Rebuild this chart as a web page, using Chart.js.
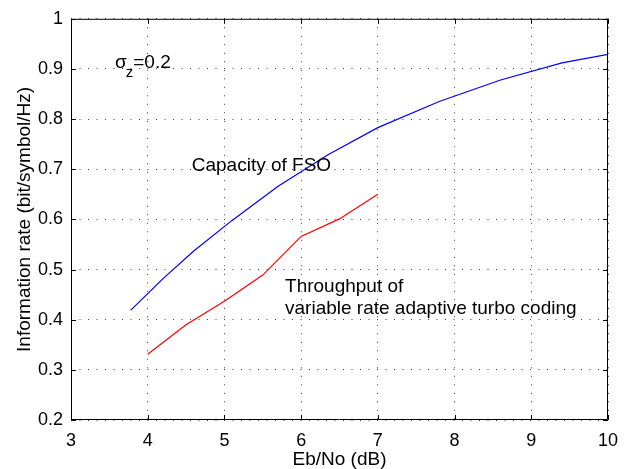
<!DOCTYPE html>
<html>
<head>
<meta charset="utf-8">
<script src="https://cdn.jsdelivr.net/npm/chart.js@4.4.1/dist/chart.umd.min.js"></script>
<style>
  html, body { margin: 0; padding: 0; background: #fff; }
  canvas { display: block; }
</style>
</head>
<body>
<canvas id="chart" width="631" height="469"></canvas>
<script>
// Capacity of FSO (blue curve)
const capacityEbNo = [3.78, 4.2, 4.6, 5.1, 5.7, 6.35, 7.0, 7.8, 8.6, 9.4, 10.0];
const capacityRate = [0.419, 0.482, 0.537, 0.598, 0.666, 0.729, 0.783, 0.835, 0.878, 0.912, 0.929];

// Throughput of variable rate adaptive turbo coding (red curve)
const throughputEbNo = [4, 4.5, 5, 5.5, 6, 6.5, 7];
const throughputRate = [0.331, 0.39, 0.437, 0.489, 0.566, 0.601, 0.65];

const xTicks = [3, 4, 5, 6, 7, 8, 9, 10];
const yTicks = [0.2, 0.3, 0.4, 0.5, 0.6, 0.7, 0.8, 0.9, 1];

// text notes, anchored in data units (left edge, baseline)
const notes = [
  { x: 4.574, y: 0.696, lines: ['Capacity of FSO'] },
  { x: 5.79, y: 0.455, lines: ['Throughput of', 'variable rate adaptive turbo coding'] }
];
const sigmaNote = { x: 3.574, y: 0.9026, value: '=0.2' };

const FONT = '"Liberation Sans", Arial, Helvetica, sans-serif';
const toPoints = (xs, ys) => xs.map((x, i) => ({ x, y: ys[i] }));

const frame = {
  id: 'frame',
  afterDatasetsDraw(chart) {
    const { ctx, chartArea: a, scales: { x, y } } = chart;
    const tick = 5;
    ctx.save();
    ctx.strokeStyle = '#000';
    ctx.lineWidth = 1;
    ctx.beginPath();
    ctx.rect(a.left + 0.5, a.top + 0.5, a.right - a.left - 1, a.bottom - a.top - 1);
    // inward tick marks on all four sides
    xTicks.forEach(v => {
      const px = Math.round(x.getPixelForValue(v)) + 0.5;
      ctx.moveTo(px, a.bottom); ctx.lineTo(px, a.bottom - tick);
      ctx.moveTo(px, a.top); ctx.lineTo(px, a.top + tick);
    });
    yTicks.forEach(v => {
      const py = Math.round(y.getPixelForValue(v)) + 0.5;
      ctx.moveTo(a.left, py); ctx.lineTo(a.left + tick, py);
      ctx.moveTo(a.right, py); ctx.lineTo(a.right - tick, py);
    });
    ctx.stroke();

    // annotations
    ctx.fillStyle = '#000';
    ctx.textBaseline = 'alphabetic';
    ctx.textAlign = 'left';
    ctx.font = '19px ' + FONT;
    notes.forEach(n => {
      const px = x.getPixelForValue(n.x);
      let py = y.getPixelForValue(n.y);
      n.lines.forEach(t => { ctx.fillText(t, px, py); py += 21.6; });
    });
    let sx = x.getPixelForValue(sigmaNote.x);
    const sy = y.getPixelForValue(sigmaNote.y);
    ctx.fillText('σ', sx, sy);
    sx += ctx.measureText('σ').width - 1;
    ctx.font = '15px ' + FONT;
    ctx.fillText('z', sx, sy + 9);
    sx += ctx.measureText('z').width;
    ctx.font = '19px ' + FONT;
    ctx.fillText(sigmaNote.value, sx, sy);
    ctx.restore();
  }
};

new Chart(document.getElementById('chart').getContext('2d'), {
  type: 'line',
  data: {
    datasets: [
      {
        label: 'Capacity of FSO',
        data: toPoints(capacityEbNo, capacityRate),
        borderColor: '#0000ff',
        borderWidth: 1.2,
        pointRadius: 0,
        tension: 0,
        fill: false
      },
      {
        label: 'Throughput',
        data: toPoints(throughputEbNo, throughputRate),
        borderColor: '#ff0000',
        borderWidth: 1.2,
        pointRadius: 0,
        tension: 0,
        fill: false
      }
    ]
  },
  options: {
    responsive: false,
    animation: false,
    layout: { padding: { top: 17, right: 23, left: 0, bottom: 0 } },
    plugins: {
      legend: { display: false },
      tooltip: { enabled: false }
    },
    scales: {
      x: {
        type: 'linear',
        min: 3,
        max: 10,
        afterBuildTicks: s => { s.ticks = xTicks.map(v => ({ value: v })); },
        afterFit: s => { s.height = 49; },
        grid: { color: 'rgba(0,0,0,0.75)', lineWidth: 1, drawTicks: false },
        border: { display: false, dash: [1, 7.5] },
        ticks: {
          color: '#000',
          padding: 10,
          maxRotation: 0,
          font: { family: FONT, size: 18 },
          callback: v => String(v)
        },
        title: {
          display: true,
          text: 'Eb/No (dB)',
          color: '#000',
          padding: 0,
          font: { family: FONT, size: 19, lineHeight: 1 }
        }
      },
      y: {
        type: 'linear',
        min: 0.2,
        max: 1,
        afterBuildTicks: s => { s.ticks = yTicks.map(v => ({ value: v })); },
        afterFit: s => { s.width = 71; },
        grid: { color: 'rgba(0,0,0,0.75)', lineWidth: 1, drawTicks: false },
        border: { display: false, dash: [1, 7.5] },
        ticks: {
          color: '#000',
          padding: 8,
          font: { family: FONT, size: 18 },
          callback: v => String(+v.toFixed(1))
        },
        title: {
          display: true,
          text: 'Information rate (bit/symbol/Hz)',
          color: '#000',
          padding: { top: 15.5, bottom: 0 },
          font: { family: FONT, size: 19, lineHeight: 1 }
        }
      }
    }
  },
  plugins: [frame]
});
</script>
</body>
</html>
